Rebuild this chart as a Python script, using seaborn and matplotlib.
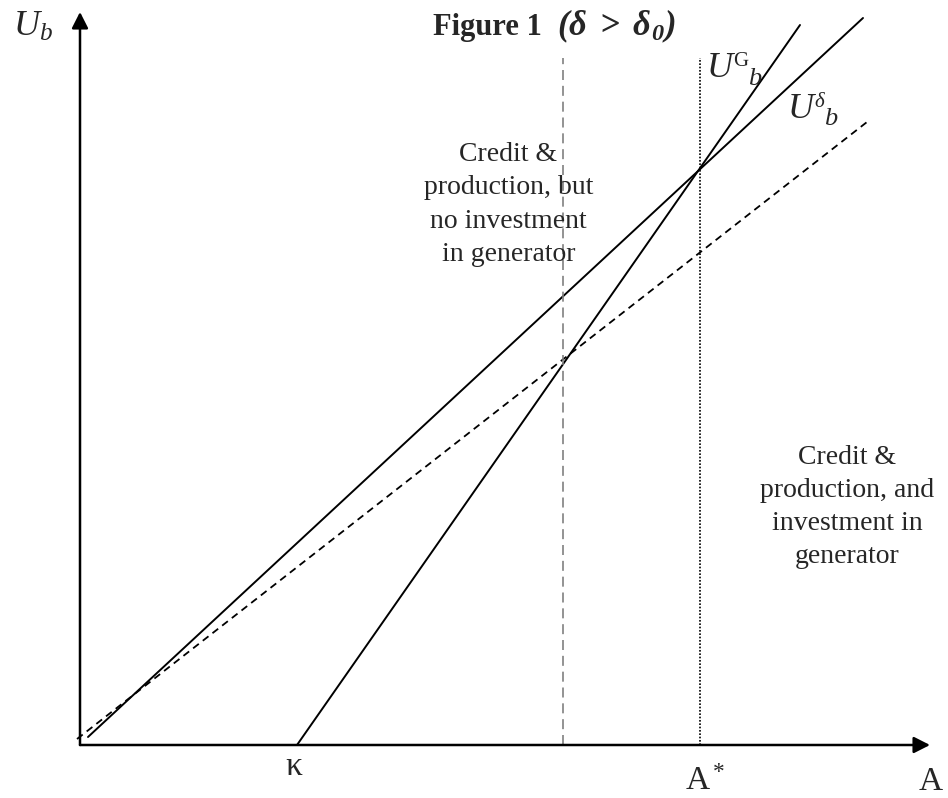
import matplotlib
matplotlib.use("Agg")
import matplotlib.pyplot as plt
import seaborn as sns
import pandas as pd

# ---- data (diagram units) ----
kappa = 2.17          # U^G_b intercept on the A axis
a_star = 6.20         # threshold A*
a_hat = 4.83          # intersection of U^G_b with dashed line
UG_x = [2.17, 7.20]
UG_y = [0.00, 7.20]
Ud_x = [0.08, 7.83]
Ud_y = [0.08, 7.27]
dash_x = [-0.03, 7.87]
dash_y = [0.06, 6.23]
v_top = 6.87
x_tip = 8.50
y_tip = 7.33

sns.set_theme(style="white")
plt.rcParams['font.family'] = ['Liberation Serif', 'DejaVu Serif']
plt.rcParams['mathtext.fontset'] = 'custom'
plt.rcParams['mathtext.rm'] = 'Liberation Serif'
plt.rcParams['mathtext.it'] = 'Liberation Serif:italic'
plt.rcParams['mathtext.bf'] = 'Liberation Serif:bold'
plt.rcParams['mathtext.bfit'] = 'Liberation Serif:italic:bold'

fig = plt.figure(figsize=(9.48, 7.98), dpi=100)
ax = fig.add_axes([0, 0, 1, 1])
ax.set_xlim(-0.80, 8.68)
ax.set_ylim(-0.53, 7.45)
ax.axis('off')

df_g = pd.DataFrame({'A': UG_x, 'U': UG_y})
df_d = pd.DataFrame({'A': Ud_x, 'U': Ud_y})
df_dash = pd.DataFrame({'A': dash_x, 'U': dash_y})

sns.lineplot(data=df_g, x='A', y='U', ax=ax, color='black', lw=1.4)
sns.lineplot(data=df_d, x='A', y='U', ax=ax, color='black', lw=1.4)
sns.lineplot(data=df_dash, x='A', y='U', ax=ax, color='black', lw=1.3,
             linestyle=(0, (4, 2.8)))

ax.vlines(a_hat, 0, v_top, colors='#808080', lw=1.2, linestyles=(0, (6, 3.5)))
ax.vlines(a_star, 0, v_top, colors='black', lw=1.2, linestyles=(0, (1, 1)))

# axes with arrows
arrow = dict(arrowstyle='-|>,head_length=0.75,head_width=0.38', color='black',
             lw=1.8, shrinkA=0, shrinkB=0, mutation_scale=13)
ax.annotate('', xy=(x_tip, 0), xytext=(0, 0), arrowprops=arrow)
ax.annotate('', xy=(0, y_tip), xytext=(0, 0), arrowprops=arrow)

# axis name
ax.text(-0.67, 7.09, r'$U_b$', fontsize=26, ha='left', va='baseline')

# title
ax.text(3.53, 7.10, 'Figure 1', fontsize=22, fontweight='bold',
        ha='left', va='baseline')
ax.text(4.77, 7.10, r'$\mathbfit{(\delta\ >\ \delta_0)}$', fontsize=25,
        ha='left', va='baseline')

# curve labels
ax.text(6.27, 6.68, 'U', fontsize=26, fontstyle='italic', ha='left', va='baseline')
ax.text(6.535, 6.79, 'G', fontsize=15, ha='left', va='baseline')
ax.text(6.68, 6.60, 'b', fontsize=19, fontstyle='italic', ha='left', va='baseline')
ax.text(7.08, 6.27, 'U', fontsize=26, fontstyle='italic', ha='left', va='baseline')
ax.text(7.345, 6.38, 'δ', fontsize=15, fontstyle='italic', ha='left', va='baseline')
ax.text(7.44, 6.20, 'b', fontsize=19, fontstyle='italic', ha='left', va='baseline')

# region notes
ax.text(4.285, 6.03, 'Credit &\nproduction, but\nno investment\nin generator',
        fontsize=20, ha='center', va='top', linespacing=1.44)
ax.text(7.675, 3.00, 'Credit &\nproduction, and\ninvestment in\ngenerator',
        fontsize=20, ha='center', va='top', linespacing=1.42)

# axis tick names
ax.text(kappa - 0.03, -0.22, 'κ', fontsize=24, ha='center', va='center')
ax.text(a_star - 0.15, -0.45, r'A$^*$', fontsize=24, ha='left', va='baseline')
ax.text(x_tip + 0.01, -0.45, 'A', fontsize=24, ha='center', va='baseline')

fig.savefig('out.png', dpi=100)
